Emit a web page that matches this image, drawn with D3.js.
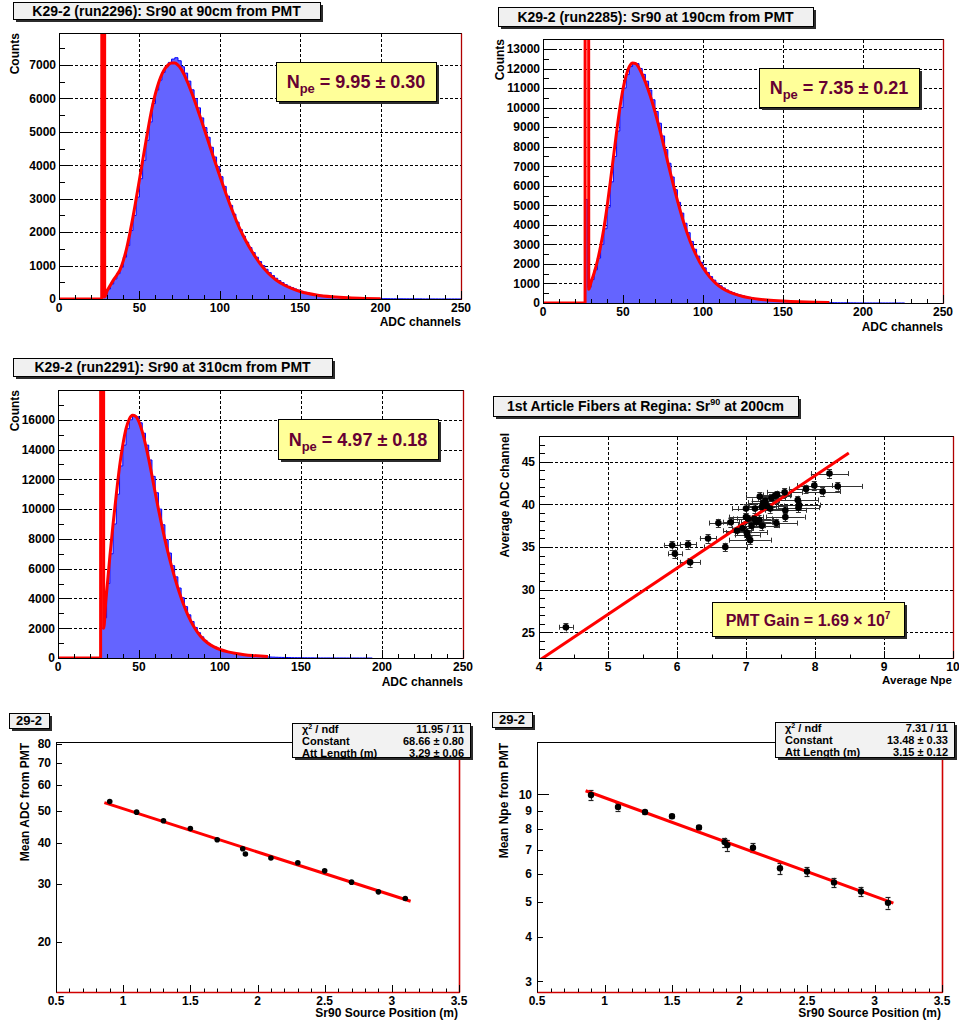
<!DOCTYPE html>
<html>
<head>
<meta charset="utf-8">
<script src="https://cdn.jsdelivr.net/npm/d3@7"></script>
<style>
  body { margin: 0; background: #fff; }
  svg text { font-family: "Liberation Sans", Arial, Helvetica, sans-serif; font-weight: bold; fill: #000; }
</style>
</head>
<body>
<svg id="chart" width="959" height="1022"></svg>
<script>
// ---------------- data ----------------
const adcBinWidth = 2;

// run2296 — Sr90 at 90 cm from PMT (2-channel bins, first bin starts at channel 26)
const run2296Start = 26;
const run2296Counts = [920,120,300,450,600,760,950,1250,1600,2050,2500,3050,3600,4150,4750,5300,5850,6250,6550,6780,
  6950,7080,7180,7220,7130,6950,6760,6520,6260,6000,5720,5420,5130,4840,4540,4250,3960,3660,3370,3080,
  2800,2540,2300,2080,1880,1700,1540,1390,1250,1120,1000,890,790,700,620,550,490,430,380,340,
  300,265,230,200,180,160,140,125,110,98,86,76,68,60,52,46,40,36,32,28,
  25,22,19,17,15,13,12,10,9,8,7,7,6,6,5,5,5,4,4,4,3,3,3,3,3,2,2,2,2,2,2,1];
const fit2296 = [[0,0],[26.6,0],[27.3,250000],[27.9,250000],[28.4,60],[30,250],[32,420],[34,580],[36,720],[38,880],
  [40,1150],[42,1500],[44,1950],[46,2450],[48,3000],[50,3560],[52,4130],[54,4700],[56,5250],[58,5750],[60,6150],
  [62,6480],[64,6730],[66,6900],[68,7010],[70,7060],[72,7060],[74,7000],[76,6880],[78,6700],[80,6480],[84,5980],
  [88,5420],[92,4840],[96,4250],[100,3680],[104,3130],[108,2620],[112,2150],[116,1760],[120,1420],[125,1060],
  [130,780],[135,570],[140,420],[145,310],[150,225],[160,120],[170,65],[180,35],[190,18],[200,9]];

// run2285 — Sr90 at 190 cm from PMT
const run2285Start = 26;
const run2285Counts = [5300,800,1200,1700,2300,3000,3800,4900,6200,7500,8800,10000,11000,11700,12100,12300,12250,12000,11700,11350,
  10900,10400,9800,9200,8550,7850,7150,6450,5800,5150,4600,4080,3600,3150,2750,2400,2080,1800,1560,1350,
  1170,1010,880,770,670,590,520,460,410,365,325,290,258,230,195,178,162,148,135,123,
  112,101,91,82,74,66,59,53,47,42,37,33,29,26,23,20,18,16,14,12,11,10,9,8,7,6,5,5,4,4,3,3,3,2,2,2,2,1,1,1];
const fit2285 = [[0,0],[26.3,0],[26.8,250000],[27.6,250000],[28.6,700],[30,1050],[32,1550],[34,2150],[36,2900],
  [38,3800],[40,4900],[42,6150],[44,7450],[46,8750],[48,9950],[50,10950],[52,11650],[54,12100],[56,12280],[58,12250],
  [60,12030],[62,11700],[64,11300],[66,10850],[68,10350],[70,9780],[72,9180],[74,8550],[76,7880],[78,7200],[80,6530],
  [84,5250],[88,4100],[92,3150],[96,2400],[100,1800],[104,1350],[108,1010],[112,760],[116,580],[120,450],[125,330],
  [130,250],[135,195],[140,155],[150,100],[160,62],[170,38],[179,24]];

// run2291 — Sr90 at 310 cm from PMT
const run2291Start = 26;
const run2291Counts = [2000,2700,5000,7000,9000,11000,12900,14300,15400,16000,16300,16200,15800,15100,14300,13300,12200,11100,10000,8950,
  7950,7050,6200,5450,4700,4050,3450,2900,2450,2050,1700,1420,1180,980,820,740,640,560,490,430,
  370,320,280,245,210,180,155,135,115,100,88,77,67,58,50,43,37,32,27,23,
  20,17,14,12,10,9,8,7,6,5,5,4,4,3,3,3,2,2,2,2,1,1,1,1];
const fit2291 = [[0,0],[26.3,0],[26.8,300000],[27.6,300000],[28.2,2000],[29.5,3800],[31,5600],[32,6800],[34,9000],
  [36,11000],[38,12850],[40,14300],[42,15400],[44,16050],[46,16300],[48,16220],[50,15850],[52,15200],[54,14350],
  [56,13350],[58,12250],[60,11100],[62,10000],[64,8950],[66,7950],[68,7050],[70,6200],[72,5420],[74,4700],[76,4050],
  [78,3460],[80,2930],[84,2080],[88,1460],[92,1040],[96,760],[100,570],[105,410],[110,300],[115,225],[120,170],
  [125,130],[129.6,100]];

const adcTicks = [0, 50, 100, 150, 200, 250];
const countTicks2296 = [0,1000,2000,3000,4000,5000,6000,7000];
const countTicks2285 = [0,1000,2000,3000,4000,5000,6000,7000,8000,9000,10000,11000,12000,13000];
const countTicks2291 = [0,2000,4000,6000,8000,10000,12000,14000,16000];

// First-article fibers at Regina, Sr90 at 200 cm
const fiberNpe    = [4.39,5.93,5.97,6.16,6.19,6.45,6.60,6.70,6.78,6.87,6.95,7.00,7.00,7.01,7.02,7.03,7.06,7.08,7.12,7.13,7.15,7.19,
  7.20,7.23,7.23,7.25,7.28,7.30,7.35,7.37,7.42,7.44,7.45,7.56,7.57,7.57,7.75,7.76,7.77,7.87,7.99,8.11,8.21,8.33];
const fiberAdc    = [25.6,35.2,34.2,35.3,33.2,36.0,37.8,35.0,37.9,36.9,37.2,39.5,38.5,36.7,36.4,38.3,35.8,37.5,38.3,39.5,37.9,38.2,
  40.9,37.5,39.7,40.2,40.4,39.8,39.5,40.7,41.0,37.8,41.1,41.4,39.3,38.5,40.5,39.6,39.9,41.8,42.2,41.5,43.6,42.1];
const fiberNpeErr = [0.10,0.12,0.10,0.12,0.15,0.12,0.13,0.31,0.12,0.20,0.15,0.20,0.25,0.30,0.18,0.22,0.30,0.20,0.25,0.25,0.22,0.20,
  0.20,0.25,0.20,0.22,0.20,0.25,0.25,0.20,0.22,0.30,0.20,0.25,0.30,0.28,0.30,0.30,0.30,0.25,0.25,0.25,0.27,0.35];
const fiberAdcErr = 0.5;
const gainFit = [[4.0, 21.7], [8.49, 46.0]];
const npeAxisTicks = [4,5,6,7,8,9,10];
const adcAxisTicks = [25,30,35,40,45];

// Attenuation scan, fiber 29-2
const sourcePos  = [0.90,1.10,1.30,1.50,1.70,1.89,1.91,2.10,2.30,2.50,2.70,2.90,3.10];
const meanAdc    = [53.4,49.6,46.7,44.2,40.9,38.4,37.0,36.0,34.8,32.9,30.4,28.4,27.1];
const meanNpe    = [9.95,9.22,8.92,8.68,8.08,7.35,7.21,7.09,6.21,6.08,5.67,5.35,4.97];
const meanNpeErr = [0.30,0.22,0.12,0.10,0.10,0.21,0.26,0.20,0.22,0.18,0.17,0.16,0.18];
const adcAttFit  = [[0.86, 53.0], [3.14, 26.6]];
const npeAttFit  = [[0.86, 10.23], [3.14, 4.96]];
const positionTicks = [0.5,1,1.5,2,2.5,3,3.5];
const meanAdcTicks  = [20,30,40,50,60,70,80];
const meanNpeTicks  = [3,4,5,6,7,8,9,10];

// ---------------- drawing helpers ----------------
const svg = d3.select("#chart");
let clipSeq = 0;
const px = v => Math.round(v) + 0.5;
const HIST_FILL = "#6464ff", HIST_LINE = "#0000ff", FIT_RED = "#ff0000", EDGE_RED = "#b00000", LABEL_RED = "#660033";

function shadowBox(x, y, w, h, fill) {
  const g = svg.append("g");
  g.append("rect").attr("x", Math.round(x) + 3).attr("y", Math.round(y) + 3)
    .attr("width", Math.round(w)).attr("height", Math.round(h)).attr("fill", "#2b2b2b");
  g.append("rect").attr("x", px(x)).attr("y", px(y))
    .attr("width", Math.round(w)).attr("height", Math.round(h))
    .attr("fill", fill).attr("stroke", "#000").attr("stroke-width", 1);
  return g;
}

function titleBox(x, y, w, h, size, build) {
  const g = shadowBox(x, y, w, h, "#f0f0f0");
  const t = g.append("text").attr("x", x + w / 2).attr("y", y + h / 2 + size * 0.36)
    .attr("text-anchor", "middle").style("font-size", size + "px");
  build(t);
  return g;
}

function clipFor(f) {
  const id = "clip" + (clipSeq++);
  svg.append("clipPath").attr("id", id).append("rect")
    .attr("x", f.l).attr("y", f.t).attr("width", f.r - f.l).attr("height", f.b - f.t);
  return "url(#" + id + ")";
}

// dotted grid at the labelled ticks
function grid(f, xs, ys, x, y) {
  const g = svg.append("g").attr("class", "grid");
  xs.forEach(v => g.append("line")
    .attr("x1", px(x(v))).attr("x2", px(x(v))).attr("y1", f.t + 1).attr("y2", f.b)
    .attr("stroke", "#000").attr("stroke-width", 1).attr("stroke-dasharray", "3,2"));
  ys.forEach(v => g.append("line")
    .attr("x1", f.l + 1).attr("x2", f.r).attr("y1", px(y(v))).attr("y2", px(y(v)))
    .attr("stroke", "#000").attr("stroke-width", 1).attr("stroke-dasharray", "3,2"));
}

function frame(f, redBottom) {
  const g = svg.append("g").attr("fill", "none").attr("stroke-width", 1);
  g.append("rect").attr("x", px(f.l)).attr("y", px(f.t))
    .attr("width", Math.round(f.r) - Math.round(f.l)).attr("height", Math.round(f.b) - Math.round(f.t))
    .attr("stroke", "#000");
  g.append("line").attr("x1", px(f.r)).attr("x2", px(f.r)).attr("y1", px(f.t)).attr("y2", px(f.b))
    .attr("stroke", redBottom ? "#d00000" : EDGE_RED).attr("stroke-width", redBottom ? 1.6 : 1.3);
  if (redBottom) {
    g.append("line").attr("x1", px(f.l)).attr("x2", px(f.r)).attr("y1", px(f.b)).attr("y2", px(f.b))
      .attr("stroke", "#d00000").attr("stroke-width", 1.6);
  }
}

function yTicks(f, y, values, len) {
  const g = svg.append("g").attr("stroke", "#000").attr("stroke-width", 1);
  values.forEach(v => {
    const yy = y(v);
    if (yy < f.t - 0.5 || yy > f.b + 0.5) return;
    g.append("line").attr("x1", f.l).attr("x2", f.l + len).attr("y1", px(yy)).attr("y2", px(yy));
  });
}

function xTicks(f, x, values, len) {
  const g = svg.append("g").attr("stroke", "#000").attr("stroke-width", 1);
  values.forEach(v => {
    const xx = x(v);
    if (xx < f.l - 0.5 || xx > f.r + 0.5) return;
    g.append("line").attr("x1", px(xx)).attr("x2", px(xx)).attr("y1", f.b).attr("y2", f.b - len);
  });
}

function yLabels(f, y, values, fmt, gap) {
  values.forEach(v => svg.append("text").attr("x", f.l - gap).attr("y", y(v) + 4.3)
    .attr("text-anchor", "end").style("font-size", "12px").text(fmt ? fmt(v) : v));
}

function xLabels(f, x, values, fmt) {
  values.forEach(v => svg.append("text").attr("x", x(v)).attr("y", f.b + 12.5)
    .attr("text-anchor", "middle").style("font-size", "12px").text(fmt ? fmt(v) : v));
}

function yTitle(xBase, yTop, text, size) {
  svg.append("text").attr("transform", `translate(${xBase},${yTop}) rotate(-90)`)
    .attr("text-anchor", "end").style("font-size", (size || 12) + "px").text(text);
}

function xTitle(xRight, yBase, text, size) {
  svg.append("text").attr("x", xRight).attr("y", yBase)
    .attr("text-anchor", "end").style("font-size", (size || 12) + "px").text(text);
}

function npeBox(x, y, w, h, value, err) {
  const g = shadowBox(x, y, w, h, "#ffff99");
  const t = g.append("text").attr("x", x + w / 2).attr("y", y + h / 2 + 6.5)
    .attr("text-anchor", "middle").style("font-size", "18px").style("fill", LABEL_RED);
  t.append("tspan").text("N").style("fill", LABEL_RED);
  t.append("tspan").attr("dy", 5).style("font-size", "13px").style("fill", LABEL_RED).text("pe");
  t.append("tspan").attr("dy", -5).style("fill", LABEL_RED).text(` = ${value.toFixed(2)} \u00b1 ${err.toFixed(2)}`);
}

// ---------------- ADC histogram panels ----------------
function histPanel(o) {
  const f = o.frame;
  const x = d3.scaleLinear().domain([0, 250]).range([f.l, f.r]);
  const y = d3.scaleLinear().domain([0, o.yMax]).range([f.b, f.t]);
  const clip = clipFor(f);

  grid(f, adcTicks.filter(v => v > 0 && v < 250), o.ticks.filter(v => v > 0), x, y);

  const bins = o.counts.map((c, i) => [o.start + i * adcBinWidth, c]);
  bins.push([o.start + o.counts.length * adcBinWidth, 0]);
  const hg = svg.append("g").attr("clip-path", clip);
  hg.append("path").datum(bins)
    .attr("d", d3.area().x(d => x(d[0])).y0(y(0)).y1(d => y(d[1])).curve(d3.curveStepAfter))
    .attr("fill", HIST_FILL);
  hg.append("path").datum(bins)
    .attr("d", d3.line().x(d => x(d[0])).y(d => y(d[1])).curve(d3.curveStepAfter))
    .attr("fill", "none").attr("stroke", HIST_LINE).attr("stroke-width", 1);
  hg.append("path").datum(o.fit)
    .attr("d", d3.line().x(d => x(d[0])).y(d => y(d[1])).curve(d3.curveMonotoneX))
    .attr("fill", "none").attr("stroke", FIT_RED).attr("stroke-width", 3).attr("stroke-linejoin", "round");

  frame(f, false);
  const minorY = d3.range(0, o.yMax, o.minorY);
  yTicks(f, y, minorY, 6);
  yTicks(f, y, o.ticks, 12);
  xTicks(f, x, d3.range(0, 251, 10), 4);
  xTicks(f, x, adcTicks, 8);
  yLabels(f, y, o.ticks, null, 3);
  xLabels(f, x, adcTicks);
  yTitle(o.countsX, f.t, "Counts");
  xTitle(f.r, o.adcTitleY, "ADC channels");
  titleBox(o.title.x, o.title.y, o.title.w, o.title.h, 14, t => t.text(o.title.text));
  npeBox(o.box.x, o.box.y, o.box.w, o.box.h, o.npe, o.npeErr);
}

histPanel({
  frame: { l: 59, t: 33, r: 461, b: 299 }, yMax: 7960, minorY: 500,
  counts: run2296Counts, start: run2296Start, fit: fit2296, ticks: countTicks2296,
  countsX: 19, adcTitleY: 326,
  title: { x: 13, y: 2, w: 307, h: 17, text: "K29-2 (run2296): Sr90 at 90cm from PMT" },
  box: { x: 276, y: 62, w: 160, h: 39 }, npe: 9.95, npeErr: 0.30
});

histPanel({
  frame: { l: 543, t: 39, r: 943, b: 303 }, yMax: 13510, minorY: 500,
  counts: run2285Counts, start: run2285Start, fit: fit2285, ticks: countTicks2285,
  countsX: 504, adcTitleY: 331,
  title: { x: 498, y: 7, w: 315, h: 19, text: "K29-2 (run2285): Sr90 at 190cm from PMT" },
  box: { x: 759, y: 68, w: 160, h: 39 }, npe: 7.35, npeErr: 0.21
});

histPanel({
  frame: { l: 58, t: 390, r: 463, b: 658 }, yMax: 18000, minorY: 1000,
  counts: run2291Counts, start: run2291Start, fit: fit2291, ticks: countTicks2291,
  countsX: 18.5, adcTitleY: 686,
  title: { x: 13, y: 358, w: 319, h: 18, text: "K29-2 (run2291): Sr90 at 310cm from PMT" },
  box: { x: 278, y: 419, w: 160, h: 40 }, npe: 4.97, npeErr: 0.18
});

// ---------------- gain scatter panel ----------------
(function () {
  const f = { l: 539, t: 436, r: 953, b: 658 };
  const x = d3.scaleLinear().domain([4, 10]).range([f.l, f.r]);
  const y = d3.scaleLinear().domain([22, 48]).range([f.b, f.t]);
  const clip = clipFor(f);

  grid(f, npeAxisTicks.filter(v => v > 4 && v < 10), adcAxisTicks, x, y);

  const eg = svg.append("g").attr("stroke", "#333").attr("stroke-width", 1).attr("clip-path", clip);
  fiberNpe.forEach((n, i) => {
    const cx = x(n), cy = y(fiberAdc[i]);
    const xl = x(n - fiberNpeErr[i]), xr = x(n + fiberNpeErr[i]);
    const yt = y(fiberAdc[i] + fiberAdcErr), yb = y(fiberAdc[i] - fiberAdcErr);
    eg.append("line").attr("x1", xl).attr("x2", xr).attr("y1", px(cy)).attr("y2", px(cy));
    eg.append("line").attr("x1", px(xl)).attr("x2", px(xl)).attr("y1", cy - 2.5).attr("y2", cy + 2.5);
    eg.append("line").attr("x1", px(xr)).attr("x2", px(xr)).attr("y1", cy - 2.5).attr("y2", cy + 2.5);
    eg.append("line").attr("x1", px(cx)).attr("x2", px(cx)).attr("y1", yt).attr("y2", yb);
    eg.append("line").attr("x1", cx - 2.5).attr("x2", cx + 2.5).attr("y1", px(yt)).attr("y2", px(yt));
    eg.append("line").attr("x1", cx - 2.5).attr("x2", cx + 2.5).attr("y1", px(yb)).attr("y2", px(yb));
  });

  svg.append("g").attr("clip-path", clip).append("path").datum(gainFit)
    .attr("d", d3.line().x(d => x(d[0])).y(d => y(d[1])))
    .attr("stroke", FIT_RED).attr("stroke-width", 3).attr("fill", "none");

  svg.append("g").selectAll("circle").data(fiberNpe).join("circle")
    .attr("cx", d => x(d)).attr("cy", (d, i) => y(fiberAdc[i])).attr("r", 3.3).attr("fill", "#000");

  frame(f, false);
  yTicks(f, y, d3.range(22, 48.01, 1), 6);
  yTicks(f, y, adcAxisTicks, 12);
  xTicks(f, x, d3.range(4, 10.01, 0.5), 3.5);
  xTicks(f, x, npeAxisTicks, 7);
  yLabels(f, y, adcAxisTicks, null, 4);
  xLabels(f, x, npeAxisTicks);
  yTitle(509, 433, "Average ADC channel");
  xTitle(f.r - 1, 684, "Average Npe", 11.5);

  titleBox(493, 396, 305, 20, 14, t => {
    t.append("tspan").text("1st Article Fibers at Regina: Sr");
    t.append("tspan").attr("dy", -6).style("font-size", "9px").text("90");
    t.append("tspan").attr("dy", 6).text(" at 200cm");
  });

  const gb = shadowBox(712, 602, 192, 34, "#ffff99");
  const gt = gb.append("text").attr("x", 712 + 96).attr("y", 626).attr("text-anchor", "middle")
    .style("font-size", "16px").style("fill", LABEL_RED);
  gt.append("tspan").style("fill", LABEL_RED).text("PMT Gain = 1.69 \u00d7 10");
  gt.append("tspan").attr("dy", -7).style("font-size", "10px").style("fill", LABEL_RED).text("7");
})();

// ---------------- attenuation panels ----------------
function attPanel(o) {
  const f = o.frame;
  const x = d3.scaleLinear().domain([0.5, 3.5]).range([f.l, f.r]);
  const y = d3.scaleLog().domain(o.yDomain).range([f.b, f.t]);
  const clip = clipFor(f);

  if (o.err) {
    const eg = svg.append("g").attr("stroke", "#222").attr("stroke-width", 1.2);
    sourcePos.forEach((p, i) => {
      const cx = x(p), yt = y(o.values[i] + o.err[i]), yb = y(o.values[i] - o.err[i]);
      eg.append("line").attr("x1", px(cx)).attr("x2", px(cx)).attr("y1", yt).attr("y2", yb);
      eg.append("line").attr("x1", cx - 2.5).attr("x2", cx + 2.5).attr("y1", px(yt)).attr("y2", px(yt));
      eg.append("line").attr("x1", cx - 2.5).attr("x2", cx + 2.5).attr("y1", px(yb)).attr("y2", px(yb));
    });
  }
  svg.append("g").attr("clip-path", clip).append("path").datum(o.fit)
    .attr("d", d3.line().x(d => x(d[0])).y(d => y(d[1])))
    .attr("stroke", FIT_RED).attr("stroke-width", 3).attr("fill", "none");
  svg.append("g").selectAll("circle").data(sourcePos).join("circle")
    .attr("cx", d => x(d)).attr("cy", (d, i) => y(o.values[i])).attr("r", o.r).attr("fill", "#000");

  frame(f, true);
  yTicks(f, y, o.ticks, 6);
  if (o.majorY) yTicks(f, y, o.majorY, 12);
  xTicks(f, x, d3.range(0.5, 3.501, 0.1), 3.5);
  xTicks(f, x, positionTicks, 7);
  yLabels(f, y, o.ticks, null, 5);
  xLabels(f, x, positionTicks);
  yTitle(o.yTitleX, f.t + 1, o.yTitle);
  xTitle(f.r - 1, 1017, "Sr90 Source Position (m)");

  titleBox(o.tag.x, o.tag.y, 40, 15, 13, t => t.text("29-2"));

  const s = o.stats;
  const sb = shadowBox(s.x, s.y, s.w, s.h, "#f2f2f2");
  const rows = [["\u03c7\u00b2 / ndf", s.chi], ["Constant", s.c], ["Att Length (m)", s.att]];
  rows.forEach((r, i) => {
    const by = s.y + 10 + i * 12;
    const lt = sb.append("text").attr("x", s.x + 10).attr("y", by).style("font-size", "11px");
    if (i === 0) {
      lt.append("tspan").text("\u03c7");
      lt.append("tspan").attr("dy", -4).style("font-size", "7px").text("2");
      lt.append("tspan").attr("dy", 4).text(" / ndf");
    } else lt.text(r[0]);
    sb.append("text").attr("x", s.x + s.w - 6).attr("y", by).attr("text-anchor", "end")
      .style("font-size", "11px").text(r[1]);
  });
}

attPanel({
  frame: { l: 56, t: 742, r: 459, b: 992 }, yDomain: [14.1, 81],
  values: meanAdc, err: null, fit: adcAttFit, ticks: meanAdcTicks, r: 2.8,
  yTitle: "Mean ADC from PMT", yTitleX: 29,
  tag: { x: 9, y: 713 },
  stats: { x: 292, y: 723, w: 178, h: 34, chi: "11.95 / 11", c: "68.66 \u00b1  0.80", att: "3.29 \u00b1  0.06" }
});

attPanel({
  frame: { l: 537, t: 742, r: 942, b: 992 }, yDomain: [2.8, 14.0],
  values: meanNpe, err: meanNpeErr, fit: npeAttFit, ticks: meanNpeTicks, majorY: [10], r: 3.2,
  yTitle: "Mean Npe from PMT", yTitleX: 507.5,
  tag: { x: 492, y: 712 },
  stats: { x: 775, y: 722, w: 179, h: 35, chi: "7.31 / 11", c: "13.48 \u00b1  0.33", att: "3.15 \u00b1  0.12" }
});
</script>
</body>
</html>
